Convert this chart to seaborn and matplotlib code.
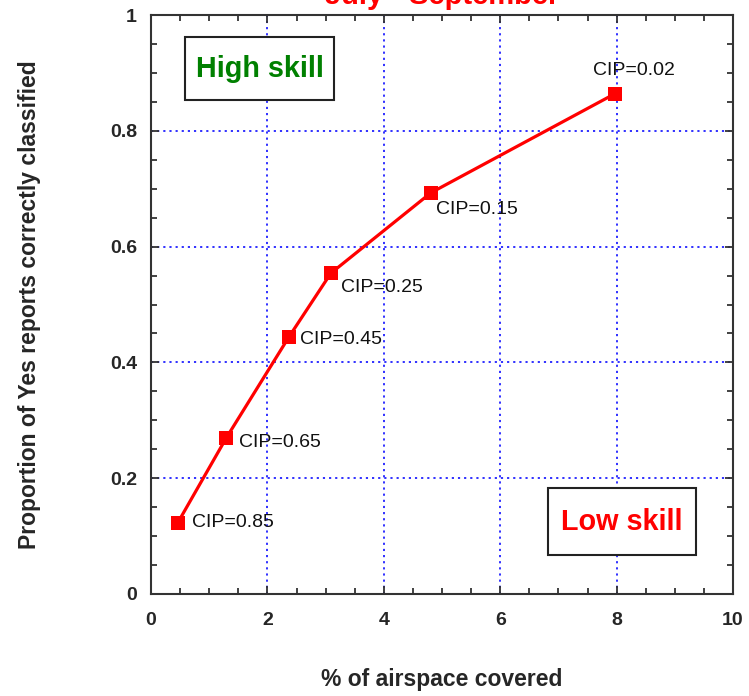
import matplotlib
matplotlib.use("Agg")
import matplotlib.pyplot as plt
import seaborn as sns
import pandas as pd
from matplotlib.patches import Rectangle

# ---- data ----
airspace_pct = [0.46, 1.29, 2.37, 3.09, 4.81, 7.97]
proportion_yes = [0.123, 0.269, 0.444, 0.554, 0.693, 0.864]
cip_labels = ["CIP=0.85", "CIP=0.65", "CIP=0.45", "CIP=0.25", "CIP=0.15", "CIP=0.02"]
x_ticks = [0, 2, 4, 6, 8, 10]
y_ticks = [0, 0.2, 0.4, 0.6, 0.8, 1]
y_tick_labels = ["0", "0.2", "0.4", "0.6", "0.8", "1"]

sns.set_style("white")
plt.rcParams["font.family"] = ["Liberation Sans", "DejaVu Sans"]

fig = plt.figure(figsize=(7.49, 6.96), dpi=100)
ax = fig.add_axes([151 / 749, 102 / 696, 582 / 749, 579 / 696])

df = pd.DataFrame({"x": airspace_pct, "y": proportion_yes})
sns.lineplot(data=df, x="x", y="y", sort=False, ax=ax, color="#ff0000",
             linewidth=2.3, marker="s", markersize=9.5, markeredgewidth=0,
             zorder=5)

ax.set_xlim(0, 10)
ax.set_ylim(0, 1)
ax.set_xticks(x_ticks)
ax.set_xticklabels([str(t) for t in x_ticks])
ax.set_yticks(y_ticks)
ax.set_yticklabels(y_tick_labels)
ax.set_xticks([i * 0.5 for i in range(21)], minor=True)
ax.set_yticks([i * 0.05 for i in range(21)], minor=True)

ax.tick_params(which="both", direction="in", top=True, right=True,
               bottom=True, left=True, color="#333333", width=1.3)
ax.tick_params(which="major", length=6, labelsize=14)
ax.tick_params(axis="x", which="major", pad=13)
ax.tick_params(axis="y", which="major", pad=10)
ax.tick_params(which="minor", length=4.5)
for lab in ax.get_xticklabels() + ax.get_yticklabels():
    lab.set_fontweight("bold")

for s in ax.spines.values():
    s.set_color("#333333")
    s.set_linewidth(1.5)
    s.set_visible(True)

ax.grid(True, which="major", color="#2020ff", linestyle=(0, (1.2, 2.2)),
        linewidth=1.3)
ax.set_axisbelow(True)

ax.set_xlabel("% of airspace covered", fontsize=16.5, fontweight="bold",
              va="center")
ax.set_ylabel("Proportion of Yes reports correctly classified", fontsize=16.5,
              fontweight="bold", va="center")
ax.xaxis.set_label_coords(0.5, -0.1485)
ax.yaxis.set_label_coords(-0.208, 0.5)

# CIP labels (offsets in points)
offsets = [(10, 0, "left", "center"), (9, -3, "left", "center"),
           (8, -2, "left", "center"), (7, -10, "left", "center"),
           (4, -12, "left", "center"), (14, 17, "center", "center")]
for xv, yv, lab, (dx, dy, ha, va) in zip(airspace_pct, proportion_yes, cip_labels, offsets):
    ax.annotate(lab, (xv, yv), xytext=(dx, dy), textcoords="offset points",
                ha=ha, va=va, fontsize=14, color="#111111", zorder=6)

# skill boxes
ax.add_patch(Rectangle((0.584, 0.853), 3.144 - 0.584, 0.962 - 0.853,
                       facecolor="white", edgecolor="#222222", linewidth=1.5,
                       zorder=4))
ax.text((0.584 + 3.144) / 2, (0.853 + 0.962) / 2, "High skill", ha="center",
        va="center", fontsize=20.7, fontweight="bold", color="#008000", zorder=5)
ax.add_patch(Rectangle((6.82, 0.067), 9.364 - 6.82, 0.183 - 0.067,
                       facecolor="white", edgecolor="#222222", linewidth=1.5,
                       zorder=4))
ax.text((6.82 + 9.364) / 2, (0.067 + 0.183) / 2, "Low skill", ha="center",
        va="center", fontsize=20.7, fontweight="bold", color="#ff0000", zorder=5)

fig.text(442 / 749, 1 - 4 / 696, "July - September", ha="center",
         va="baseline", fontsize=21, fontweight="bold", color="#ff0000")

fig.savefig("out.png", dpi=100)
